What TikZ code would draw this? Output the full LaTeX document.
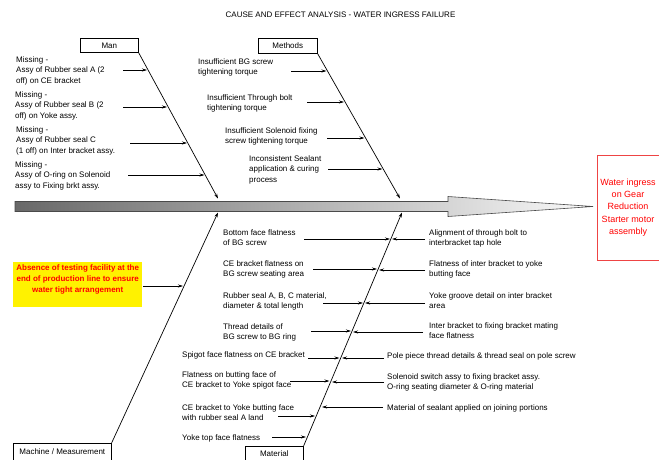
\documentclass[tikz,border=0pt]{standalone}
\usepackage{fontspec}
\setmainfont{Liberation Sans}
\usetikzlibrary{arrows.meta,calc}
\definecolor{spinedark}{HTML}{686868}
\definecolor{spinelight}{HTML}{FAFAFA}
\definecolor{spineline}{HTML}{4A4A4A}
\definecolor{effborder}{HTML}{EE4444}
\begin{document}
\begin{tikzpicture}[x=1pt,y=-1pt,
  ctext/.style={font=\fontsize{8}{10.5}\selectfont, align=left, inner sep=0pt, anchor=north west},
  catbox/.style={draw=black, line width=0.6pt, fill=white, font=\fontsize{8}{10}\selectfont, inner sep=1pt, anchor=north west},
  bone/.style={line width=0.7pt, -{Stealth[length=5pt,width=3.2pt]}},
  cause/.style={line width=0.6pt, -{Stealth[length=5pt,width=3pt]}}
]
\useasboundingbox (0,0) rectangle (659,459);

% title
\node[font=\fontsize{8}{10}\selectfont, inner sep=0pt] (title) at (340.5,15) {CAUSE AND EFFECT ANALYSIS - WATER INGRESS FAILURE};

% spine
\shade[left color=spinedark, right color=spinelight, draw=spineline, line width=0.6pt]
  (15,201.5) -- (448,201.5) -- (448,196.5) -- (593,206.5) -- (448,216.5) -- (448,211.5) -- (15,211.5) -- cycle;

% effect box
\node[draw=effborder, line width=0.8pt, minimum width=68pt, minimum height=105pt, anchor=north west,
      inner sep=0pt] (effect) at (597,155) {};
\node[align=center, text=red, font=\fontsize{9}{12.3}\selectfont, inner sep=0pt] (effecttext) at (628,207.5)
      {Water ingress\\on Gear\\Reduction\\Starter motor\\assembly};

% bone end points on the spine
\coordinate (manend) at (218,198.5);
\coordinate (methend) at (400,198.5);
\coordinate (machend) at (218,212.5);
\coordinate (matend) at (402,212.5);

% category boxes
\node[catbox, minimum width=58pt, minimum height=14pt] (man) at (80,38) {Man};
\node[catbox, minimum width=59pt, minimum height=15pt] (methods) at (258,38) {Methods};
\node[catbox, minimum width=98pt, minimum height=17pt] (machine) at (13,443) {Machine / Measurement};
\node[catbox, minimum width=58pt, minimum height=15pt] (material) at (245,446) {Material};

% bones
\draw[bone] (man.south east) -- (manend);
\draw[bone] (methods.south east) -- (methend);
\draw[bone] (machine.north east) -- (machend);
\draw[bone] (material.north east) -- (matend);

% ---- Man causes
\node[ctext] (manA) at (16,56) {Missing -\\Assy of Rubber seal A (2\\off) on CE bracket};
\node[ctext] (manB) at (15,91) {Missing -\\Assy of Rubber seal B (2\\off) on Yoke assy.};
\node[ctext] (manC) at (16,126) {Missing -\\Assy of Rubber seal C\\(1 off) on Inter bracket assy.};
\node[ctext] (manD) at (15,161) {Missing -\\Assy of O-ring on Solenoid\\assy to Fixing brkt assy.};
\coordinate (mA0) at (123,70);  \coordinate (mA1) at (147,70);
\coordinate (mB0) at (123,107); \coordinate (mB1) at (167,107);
\coordinate (mC0) at (130,143); \coordinate (mC1) at (187,143);
\coordinate (mD0) at (128,175); \coordinate (mD1) at (204.5,175);
\draw[cause] (mA0) -- (mA1);
\draw[cause] (mB0) -- (mB1);
\draw[cause] (mC0) -- (mC1);
\draw[cause] (mD0) -- (mD1);

% ---- Methods causes
\node[ctext] (metA) at (198,58) {Insufficient BG screw\\tightening torque};
\node[ctext] (metB) at (207,94) {Insufficient Through bolt\\tightening torque};
\node[ctext] (metC) at (225,127) {Insufficient Solenoid fixing\\screw tightening torque};
\node[ctext] (metD) at (249,155) {Inconsistent Sealant\\application \& curing\\process};
\coordinate (tA0) at (291,71);  \coordinate (tA1) at (326.5,71);
\coordinate (tB0) at (307,102); \coordinate (tB1) at (344,102);
\coordinate (tC0) at (327,138); \coordinate (tC1) at (364.5,138);
\coordinate (tD0) at (328,169); \coordinate (tD1) at (382.5,169);
\draw[cause] (tA0) -- (tA1);
\draw[cause] (tB0) -- (tB1);
\draw[cause] (tC0) -- (tC1);
\draw[cause] (tD0) -- (tD1);

% ---- Machine / Measurement cause
\node[fill=yellow, minimum width=129pt, minimum height=45pt, anchor=north west, inner sep=0pt] (absbox) at (13,262) {};
\node[font=\bfseries\fontsize{8}{11}\selectfont, text=red, align=center, inner sep=0pt, anchor=north] (absence) at (absbox.north) [yshift=-2pt]
  {Absence of testing facility at the\\end of production line to ensure\\water tight arrangement};
\coordinate (ab0) at (143,286); \coordinate (ab1) at (183,286);
\draw[cause] (ab0) -- (ab1);

% ---- Material causes, left side
\node[ctext] (lA) at (223,229) {Bottom face flatness\\of BG screw};
\node[ctext] (lB) at (223,260) {CE bracket flatness on\\BG screw seating area};
\node[ctext] (lC) at (223,292) {Rubber seal A, B, C material,\\diameter \& total length};
\node[ctext] (lD) at (223,323) {Thread details of\\BG screw to BG ring};
\node[ctext] (lE) at (182,351) {Spigot face flatness on CE bracket};
\node[ctext] (lF) at (182,371) {Flatness on butting face of\\CE bracket to Yoke spigot face};
\node[ctext] (lG) at (182,404) {CE bracket to Yoke butting face\\with rubber seal A land};
\node[ctext] (lH) at (182,434) {Yoke top face flatness};
\coordinate (lA0) at (304,239); \coordinate (lA1) at (390,239);
\coordinate (lB0) at (313,269); \coordinate (lB1) at (377,269);
\coordinate (lC0) at (323,303); \coordinate (lC1) at (363,303);
\coordinate (lD0) at (311,331); \coordinate (lD1) at (351,331);
\coordinate (lE0) at (308,358); \coordinate (lE1) at (339.5,358);
\coordinate (lF0) at (290,381); \coordinate (lF1) at (329.5,381);
\coordinate (lG0) at (278,416); \coordinate (lG1) at (315,416);
\coordinate (lH0) at (272,437); \coordinate (lH1) at (306,437);
\foreach \c in {lA,lB,lC,lD,lE,lF,lG,lH} \draw[cause] (\c0) -- (\c1);

% ---- Material causes, right side
\node[ctext] (rA) at (429,229) {Alignment of through bolt to\\interbracket tap hole};
\node[ctext] (rB) at (429,260) {Flatness of inter bracket to yoke\\butting face};
\node[ctext] (rC) at (429,292) {Yoke groove detail on inter bracket\\area};
\node[ctext] (rD) at (429,322) {Inter bracket to fixing bracket mating\\face flatness};
\node[ctext] (rE) at (387,352) {Pole piece thread details \& thread seal on pole screw};
\node[ctext] (rF) at (387,373) {Solenoid switch assy to fixing bracket assy.\\O-ring seating diameter \& O-ring material};
\node[ctext] (rG) at (387,404) {Material of sealant applied on joining portions};
\coordinate (rA0) at (425,239); \coordinate (rA1) at (392,239);
\coordinate (rB0) at (425,270); \coordinate (rB1) at (379,270);
\coordinate (rC0) at (425,303); \coordinate (rC1) at (365,303);
\coordinate (rD0) at (423,332); \coordinate (rD1) at (353,332);
\coordinate (rE0) at (384,358); \coordinate (rE1) at (342,358);
\coordinate (rF0) at (384,382); \coordinate (rF1) at (332,382);
\coordinate (rG0) at (383,407); \coordinate (rG1) at (322,407);
\foreach \c in {rA,rB,rC,rD,rE,rF,rG} \draw[cause] (\c0) -- (\c1);
\end{tikzpicture}
\end{document}
